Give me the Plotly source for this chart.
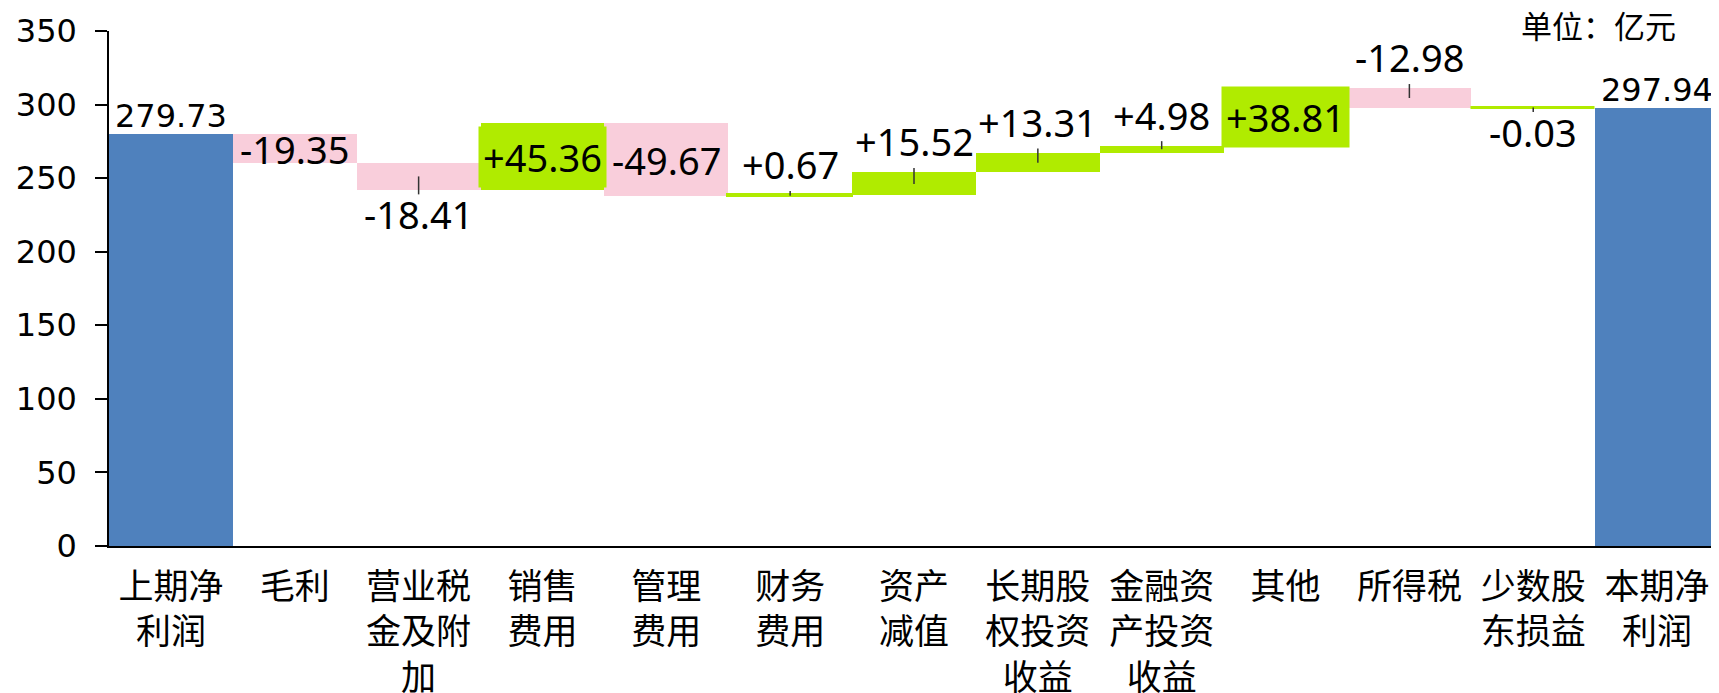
import plotly.graph_objects as go

# data (亿元)
categories = ['上期净<br>利润', '毛利', '营业税<br>金及附<br>加', '销售<br>费用', '管理<br>费用',
              '财务<br>费用', '资产<br>减值', '长期股<br>权投资<br>收益', '金融资<br>产投资<br>收益',
              '其他', '所得税', '少数股<br>东损益', '本期净<br>利润']
changes = [279.73, -19.35, -18.41, 45.36, -49.67, 0.67, 15.52, 13.31, 4.98, 38.81, -12.98, -0.03, 297.94]
kinds = ['total'] + ['delta'] * 11 + ['total']

# styling
BLUE = '#4F81BD'
PINK = '#F9CEDB'
GREEN = '#B0EB00'
bar_colors = [BLUE, PINK, PINK, GREEN, PINK, GREEN, GREEN, GREEN, GREEN, GREEN, PINK, GREEN, BLUE]
label_side = ['above', 'inside', 'below', 'boxed', 'inside', 'above', 'above', 'above', 'above',
              'boxed', 'above', 'below', 'above']

# waterfall geometry from the running total
bases, heights = [], []
running = 0.0
for kind, v in zip(kinds, changes):
    if kind == 'total':
        bases.append(0.0)
        heights.append(v)
        running = v
    else:
        bases.append(running)
        heights.append(v)
        running += v

xs = list(range(len(categories)))

fig = go.Figure()
fig.add_trace(go.Bar(
    x=xs, y=heights, base=bases,
    width=1,
    marker=dict(color=bar_colors,
                line=dict(color=bar_colors, width=[3 if abs(h) < 1 else 0 for h in heights])),
    showlegend=False,
    hoverinfo='skip',
))

annotations = []
shapes = []
for i, (kind, v) in enumerate(zip(kinds, changes)):
    lo = min(bases[i], bases[i] + heights[i])
    hi = max(bases[i], bases[i] + heights[i])
    mid = (lo + hi) / 2
    if kind == 'total':
        text = f'{v:.2f}'
        font = dict(family='DejaVu Sans', size=32, color='black')
    else:
        text = f'{v:+.2f}'
        font = dict(family='Noto Sans', size=38, color='black')
    side = label_side[i]
    ann = dict(x=i, text=text, xref='x', yref='y', showarrow=False, font=font,
               xanchor='center', yanchor='middle')
    if side == 'above':
        ann.update(y=hi, yshift=18 if kind == 'total' else 31)
    elif side == 'below':
        ann.update(y=lo, yshift=-24)
    else:
        ann.update(y=mid)
        if side == 'boxed':
            ann.update(bgcolor=bar_colors[i], borderpad=4)
    annotations.append(ann)
    # leader line from bar centre out past the edge toward the label
    if kind == 'delta' and side in ('above', 'below'):
        end = hi + 3 if side == 'above' else lo - 3
        shapes.append(dict(type='line', xref='x', yref='y', x0=i, x1=i, y0=mid, y1=end,
                           line=dict(color='#333333', width=1.5)))

annotations.append(dict(
    text='单位：亿元', xref='paper', yref='paper', x=0.9745, y=1.0117,
    xanchor='right', yanchor='middle', showarrow=False,
    font=dict(family='Noto Sans CJK SC', size=31, color='black'),
))

# page body adds an 8px offset, so the figure is 8px smaller than the window
fig.update_layout(
    width=1711, height=685,
    margin=dict(l=101, r=0, t=23, b=147),
    paper_bgcolor='white', plot_bgcolor='white',
    bargap=0,
    annotations=annotations,
    shapes=shapes,
)
fig.update_xaxes(
    range=[-0.5, len(categories) - 0.5],
    tickvals=xs, ticktext=categories,
    showline=True, linecolor='black', linewidth=1.5,
    ticks='', showgrid=False, zeroline=False, automargin=False,
    ticklabelstandoff=9,
    tickfont=dict(family='Noto Sans CJK SC', size=35, color='black'),
)
fig.update_yaxes(
    range=[0, 350], tickvals=list(range(0, 351, 50)),
    showline=True, linecolor='black', linewidth=1.5,
    ticks='outside', ticklen=12, tickwidth=1.5, tickcolor='black',
    showgrid=False, zeroline=False, automargin=False,
    ticklabelstandoff=12,
    tickfont=dict(family='DejaVu Sans', size=32, color='black'),
)

fig.write_html('out.html')
